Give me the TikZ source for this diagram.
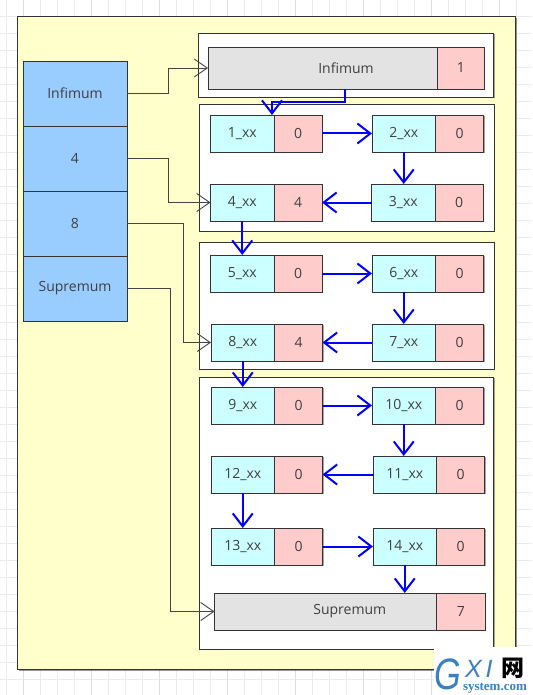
\documentclass[tikz,border=0pt]{standalone}
\usepackage{fontspec}
\setmainfont{Open Sans}
\newfontfamily\cjk{Noto Sans CJK SC}
\newfontfamily\wmsans{Liberation Sans}
\newfontfamily\wmserif{Liberation Serif}
\usetikzlibrary{arrows.meta,shadows,calc}
\definecolor{gridc}{HTML}{EBEBEB}
\definecolor{gridm}{HTML}{DDDDDD}
\definecolor{linec}{HTML}{333333}
\definecolor{connc}{HTML}{444444}
\definecolor{textc}{HTML}{404040}
\definecolor{yellowc}{HTML}{FFFFCC}
\definecolor{bluec}{HTML}{99CCFF}
\definecolor{cyanc}{HTML}{CCFFFF}
\definecolor{redc}{HTML}{FFCCCC}
\definecolor{grayc}{HTML}{E3E3E3}
\definecolor{wmblue}{HTML}{3A80C3}
\begin{document}
\begin{tikzpicture}[x=1pt,y=-1pt,
  shad/.style={drop shadow={shadow xshift=1.3pt,shadow yshift=-1.3pt,fill=black,opacity=0.35}},
  box/.style={draw=linec,line width=0.9pt,inner sep=0pt,outer sep=0pt,anchor=north west,
    text=textc,font=\fontsize{14}{16}\selectfont,shad},
  bluebox/.style={box,fill=bluec,minimum width=104pt,minimum height=65pt},
  cyanbox/.style={box,fill=cyanc,minimum width=63.5pt,minimum height=37pt},
  redbox/.style={box,fill=redc,minimum width=48pt,minimum height=37pt,anchor=west},
  graybox/.style={box,fill=grayc,minimum height=37pt},
  panel/.style={draw=linec,line width=0.9pt,fill=white,shad},
  conn/.style={draw=connc,line width=0.9pt,-{Straight Barb[length=13pt,width=18pt,line width=0.9pt]}},
  link/.style={draw=blue,line width=2pt,-{Straight Barb[length=13pt,width=20pt,line width=2pt]}},
  wm/.style={anchor=south west,inner sep=0pt,outer sep=0pt}
]
\useasboundingbox (0,0) rectangle (532,695);
\fill[white] (0,0) rectangle (532,695);
% grid
\foreach \i in {0,...,31} {
  \draw[gridc,line width=0.8pt] ({6.7+17*\i},0) -- ({6.7+17*\i},695);
}
\foreach \i in {0,...,40} {
  \draw[gridc,line width=0.8pt] (0,{16.7+17*\i}) -- (532,{16.7+17*\i});
}
\foreach \i in {0,...,7} {
  \draw[gridm,line width=0.8pt] ({23.7+68*\i},0) -- ({23.7+68*\i},695);
}
% outer yellow container
\draw[draw=linec,line width=1pt,fill=yellowc,drop shadow={shadow xshift=1.5pt,shadow yshift=-1.5pt,fill=black,opacity=0.4}] (17,17) rectangle (515,669);
% left column
\node[bluebox] (b1) at (23,61) {Infimum};
\node[bluebox] (b2) at (23,126) {4};
\node[bluebox] (b3) at (23,191) {8};
\node[bluebox] (b4) at (23,256) {Supremum};
% panels
\draw[panel] (198,33) rectangle (493.5,97);
\draw[panel] (199,104) rectangle (494,231);
\draw[panel] (199,242) rectangle (494,369);
\draw[panel] (199,377) rectangle (493.5,649);
% infimum record
\node[graybox,minimum width=229.5pt,minimum height=42pt] (inf) at (208,47) {\hspace*{46.5pt}Infimum};
\node[redbox,minimum width=46.5pt,minimum height=42pt] (infr) at (inf.east) {1};
% cells
\node[cyanbox] (c1) at (210.5,115) {1\_xx};
\node[redbox] (r1) at (c1.east) {0};
\node[cyanbox] (c2) at (372,115) {2\_xx};
\node[redbox] (r2) at (c2.east) {0};
\node[cyanbox] (c3) at (371.5,184) {3\_xx};
\node[redbox] (r3) at (c3.east) {0};
\node[cyanbox] (c4) at (210.5,184) {4\_xx};
\node[redbox] (r4) at (c4.east) {4};
\node[cyanbox] (c5) at (210.5,255) {5\_xx};
\node[redbox] (r5) at (c5.east) {0};
\node[cyanbox] (c6) at (372,255) {6\_xx};
\node[redbox] (r6) at (c6.east) {0};
\node[cyanbox] (c7) at (372,324) {7\_xx};
\node[redbox] (r7) at (c7.east) {0};
\node[cyanbox] (c8) at (211,324) {8\_xx};
\node[redbox] (r8) at (c8.east) {4};
\node[cyanbox] (c9) at (211,387) {9\_xx};
\node[redbox] (r9) at (c9.east) {0};
\node[cyanbox] (c10) at (372,387) {10\_xx};
\node[redbox] (r10) at (c10.east) {0};
\node[cyanbox] (c11) at (373,456) {11\_xx};
\node[redbox] (r11) at (c11.east) {0};
\node[cyanbox] (c12) at (211,456) {12\_xx};
\node[redbox] (r12) at (c12.east) {0};
\node[cyanbox] (c13) at (211,528) {13\_xx};
\node[redbox] (r13) at (c13.east) {0};
\node[cyanbox] (c14) at (373,528) {14\_xx};
\node[redbox] (r14) at (c14.east) {0};
% supremum record
\node[graybox,minimum width=222pt] (sup) at (214.5,593) {\hspace*{48.5pt}Supremum};
\node[redbox,minimum width=48.5pt] (supr) at (sup.east) {7};
% gray connectors from the left column
\draw[conn] (b1.east) -- ++(41,0) |- (inf.west);
\draw[conn] (b2.east) -- ++(41.5,0) |- (c4.west);
\draw[conn] (b3.east) -- ++(56,0) |- (c8.west);
\draw[conn] (b4.east) -- ++(43.5,0) |- (sup.west);
% blue links
\draw[link] ([xshift=22.5pt]inf.south) -- ++(0,13) -| ([xshift=-2pt]c1.north east);
\draw[link] (r1.east) -- (c2.west);
\draw[link] (c2.south) -- (c2.south |- c3.north);
\draw[link] (c3.west) -- (r4.east);
\draw[link] (c4.south) -- (c5.north);
\draw[link] (r5.east) -- (c6.west);
\draw[link] (c6.south) -- (c7.north);
\draw[link] (c7.west) -- (r8.east);
\draw[link] (c8.south) -- (c9.north);
\draw[link] (r9.east) -- (c10.west);
\draw[link] (c10.south) -- (c10.south |- c11.north);
\draw[link] (c11.west) -- (r12.east);
\draw[link] (c12.south) -- (c13.north);
\draw[link] (r13.east) -- (c14.west);
\draw[link] (c14.south) -- (c14.south |- sup.north);
% watermark
\fill[white] (434,647) rectangle (532,695);
\node[wm,text=wmblue,font=\wmsans\itshape\fontsize{44}{44}\selectfont,xscale=0.78] (wmg) at (434,690) {G};
\node[wm,text=wmblue,font=\wmsans\itshape\fontsize{25}{25}\selectfont] (wmx) at (465,677) {X\hspace{4pt}I};
\node[wm,text=black,font=\cjk\bfseries\fontsize{23}{23}\selectfont] (wmw) at (501,679) {网};
\node[wm,text=wmblue,font=\wmserif\bfseries\fontsize{13}{13}\selectfont] (wms) at (463,693) {system.com};
\end{tikzpicture}
\end{document}
